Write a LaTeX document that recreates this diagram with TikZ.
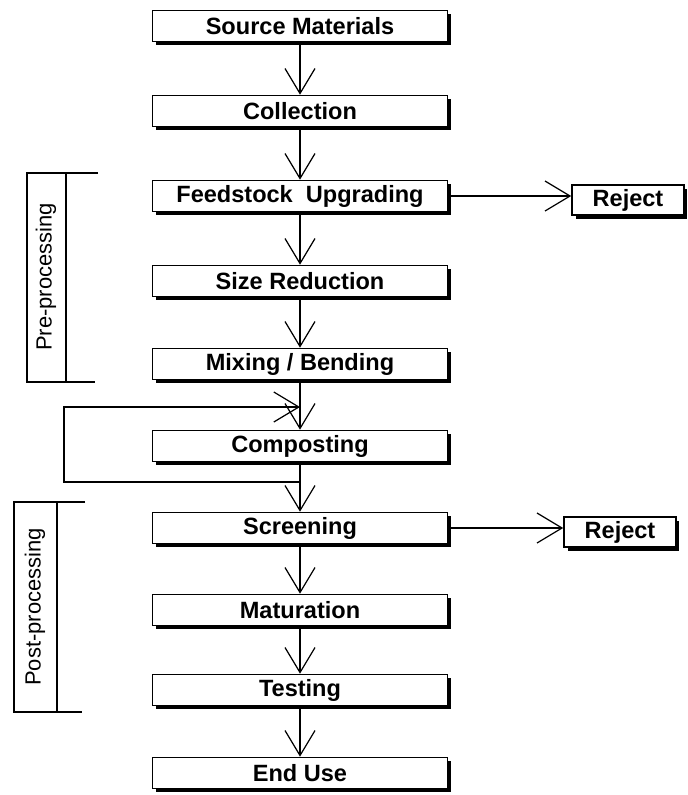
\documentclass[tikz,border=0pt]{standalone}
\usepackage{fontspec}
\setmainfont{Liberation Sans}
\usetikzlibrary{arrows.meta,shadows}
\tikzset{
  stage/.style = {draw, line width=0.9pt, fill=white, inner sep=0pt,
                  minimum width=5.9cm, minimum height=0.62cm,
                  font=\fontsize{13.4}{16}\selectfont\bfseries,
                  drop shadow={shadow xshift=0.07cm, shadow yshift=-0.07cm,
                               fill=black, opacity=1}},
  reject/.style = {stage, minimum width=2.24cm, minimum height=0.6cm},
  flow/.style   = {-{Straight Barb[length=0.5cm,width=0.6cm]}, line width=0.7pt},
  phase/.style  = {rotate=90, font=\fontsize{12.5}{15}\selectfont}
}
\begin{document}
\begin{tikzpicture}[x=0.02cm, y=-0.02cm]
  \useasboundingbox (0,0) rectangle (688,795);

  \node [stage] (src)   at (300, 26) {Source Materials};
  \node [stage] (coll)  at (300,111) {Collection};
  \node [stage] (feed)  at (300,196) {Feedstock~~Upgrading};
  \node [stage] (size)  at (300,281) {Size Reduction};
  \node [stage] (mix)   at (300,364) {Mixing / Bending};
  \node [stage] (comp)  at (300,446) {Composting};
  \node [stage] (scr)   at (300,528) {Screening};
  \node [stage] (mat)   at (300,610) {Maturation};
  \node [stage] (test)  at (300,690) {Testing};
  \node [stage] (use)   at (300,773) {End Use};

  \node [reject] (rejA) at (628,200) {Reject};
  \node [reject] (rejB) at (620,532) {Reject};

  \foreach \a/\b in {src/coll, coll/feed, feed/size, size/mix, mix/comp,
                     comp/scr, scr/mat, mat/test, test/use}
    \draw [flow] (\a) -- (\b);

  \draw [flow] (feed.east) -- (feed.east -| rejA.west);
  \draw [flow] (scr.east)  -- (scr.east -| rejB.west);

  % recirculation round the composting stage
  \coordinate (back)  at (300,482);
  \coordinate (again) at (300,407);
  \draw [flow] (back) -- ++(-236,0) |- (again);

  % phase brackets
  \draw [line width=0.6pt] (98,173) -- (27,173) -- (27,382) -- (95,382)
                           (66,173) -- (66,382);
  \node [phase] (pre) at (46,277) {Pre-processing};

  \draw [line width=0.6pt] (85,502) -- (14,502) -- (14,712) -- (82,712)
                           (57,502) -- (57,712);
  \node [phase] (post) at (35,607) {Post-processing};
\end{tikzpicture}
\end{document}
